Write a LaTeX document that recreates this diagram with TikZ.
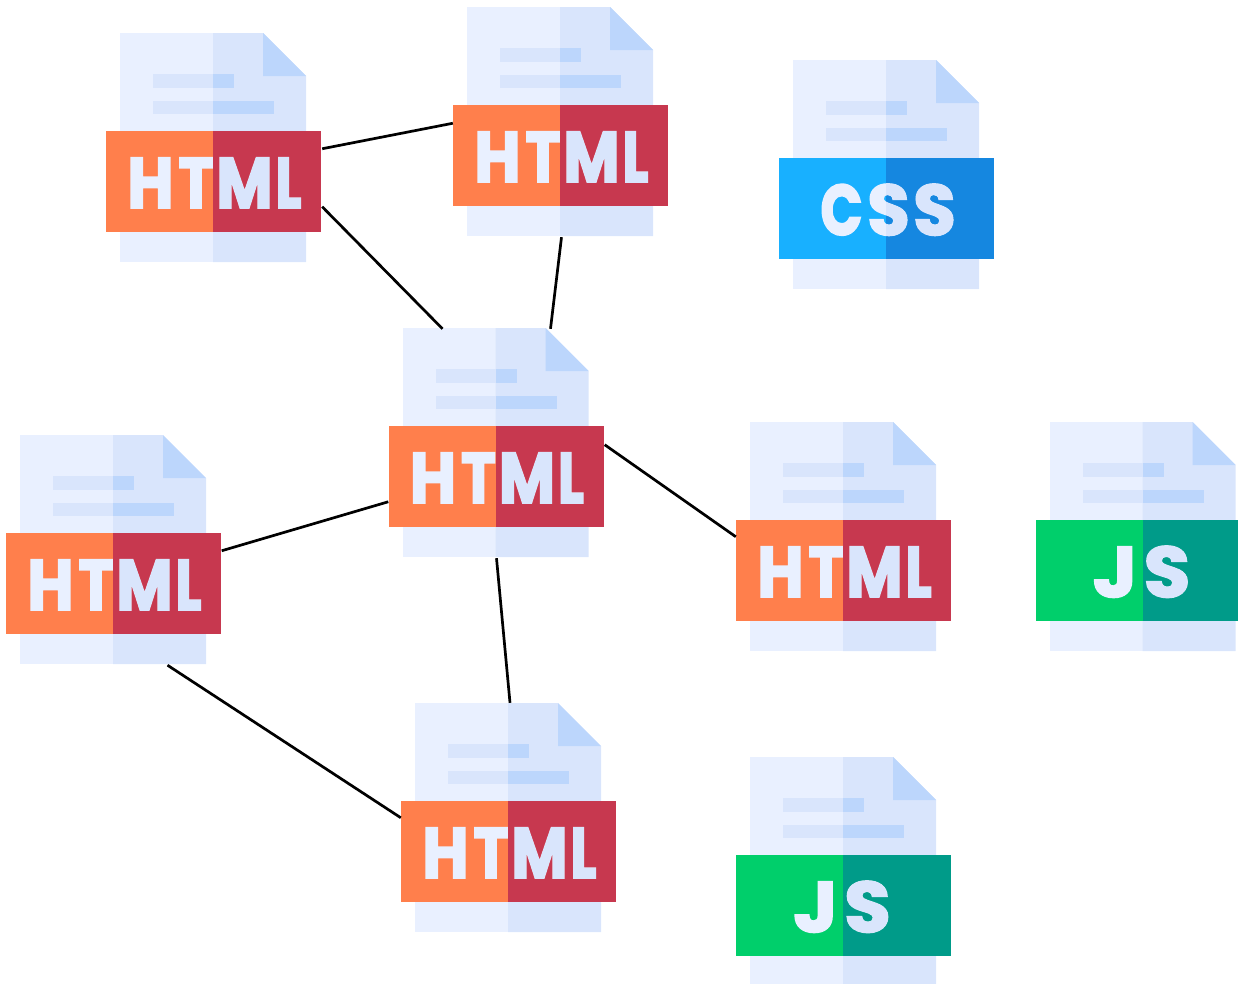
\documentclass[tikz,border=0pt]{standalone}
\usepackage{fontspec}
\newfontfamily\iconfont[FakeBold=3]{Poppins Bold}
\definecolor{pageL}{HTML}{E9F0FF}
\definecolor{pageR}{HTML}{D9E5FC}
\definecolor{foldC}{HTML}{BCD6FC}
\definecolor{htmlL}{HTML}{FF7F4C}
\definecolor{htmlR}{HTML}{C7384F}
\definecolor{cssL}{HTML}{18B0FF}
\definecolor{cssR}{HTML}{1587E0}
\definecolor{jsL}{HTML}{00CF6B}
\definecolor{jsR}{HTML}{009B89}
\tikzset{
  pagebox/.style={draw=none,fill=none,inner sep=0pt,minimum width=186pt,minimum height=229pt},
  ribbon/.style={inner sep=0pt,minimum width=215pt,minimum height=100.5pt,text=pageL,font=\iconfont\fontsize{71}{71}\selectfont},
  link/.style={draw=black,line width=2.7pt},
}
\newcommand{\gl}[2]{\resizebox{#1pt}{\height}{#2}}
\newcommand{\htmltxt}{\gl{46}{H}\kern5pt\gl{35}{T}\kern3pt\gl{56}{M}\kern3pt\gl{26}{L}}
\newcommand{\csstxt}{\gl{42}{C}\kern5pt\gl{42}{S}\kern4pt\gl{42}{S}}
\newcommand{\jstxt}{\gl{44}{J}\kern7pt\gl{46}{S}}
% name, split x, ribbon top y, text, left colour, right colour, text dx
\newcommand{\docicon}[7]{%
\begin{scope}[shift={(#2,#3)}]
  \fill[pageL] (-93,-98) rectangle (0,131);
  \fill[pageR] (0,-98) -- (50,-98) -- (93,-55) -- (93,131) -- (0,131) -- cycle;
  \fill[foldC] (50,-98) -- (93,-55) -- (50,-55) -- cycle;
  \fill[pageR] (-60,-57) rectangle (0,-43);
  \fill[foldC] (0,-57) rectangle (21,-43);
  \fill[pageR] (-60,-30) rectangle (0,-17);
  \fill[foldC] (0,-30) rectangle (61,-17);
  \node[pagebox] (#1p) at (0,16.5) {};
  \fill[#6] (0,0) rectangle (108,100.5);
  \fill[#5] (-107,0) rectangle (0,100.5);
  \node[ribbon] (#1) at (0.5,50.25)
    {\hspace*{#7pt}\raisebox{-26.5pt}[0pt][0pt]{#4}};
  \fill[pageR,blend mode=darken] (0,0) rectangle (108,100.5);
\end{scope}}
\begin{document}
\begin{tikzpicture}[x=1pt,y=-1pt]
\useasboundingbox (0,0) rectangle (1238,983);
\docicon{A}{213}{131}{\htmltxt}{htmlL}{htmlR}{2}
\docicon{B}{560}{105}{\htmltxt}{htmlL}{htmlR}{2}
\docicon{S}{886}{158}{\csstxt}{cssL}{cssR}{3}
\docicon{C}{495.5}{426}{\htmltxt}{htmlL}{htmlR}{2}
\docicon{L}{113}{533}{\htmltxt}{htmlL}{htmlR}{2}
\docicon{R}{843}{520}{\htmltxt}{htmlL}{htmlR}{2}
\docicon{J}{1142.5}{520}{\jstxt}{jsL}{jsR}{-3}
\docicon{D}{508}{801}{\htmltxt}{htmlL}{htmlR}{2}
\docicon{K}{843}{855}{\jstxt}{jsL}{jsR}{-3}
\draw[link] ([shift={(1,-32.5)}]A.east) -- ([shift={(0,-32)}]B.west);
\draw[link] ([shift={(1,25.5)}]A.east) -- ([shift={(-53,1)}]Cp.north);
\draw[link] ([shift={(1.5,1)}]Bp.south) -- ([shift={(55,1)}]Cp.north);
\draw[link] ([shift={(1,-31.5)}]C.east) -- ([shift={(0,-33.5)}]R.west);
\draw[link] ([shift={(.5,-32.5)}]L.east) -- ([shift={(0,25.5)}]C.west);
\draw[link] ([shift={(54.5,1)}]Lp.south) -- ([shift={(0,-33.5)}]D.west);
\draw[link] ([shift={(1,1)}]Cp.south) -- ([shift={(2,0)}]Dp.north);
\end{tikzpicture}
\end{document}
